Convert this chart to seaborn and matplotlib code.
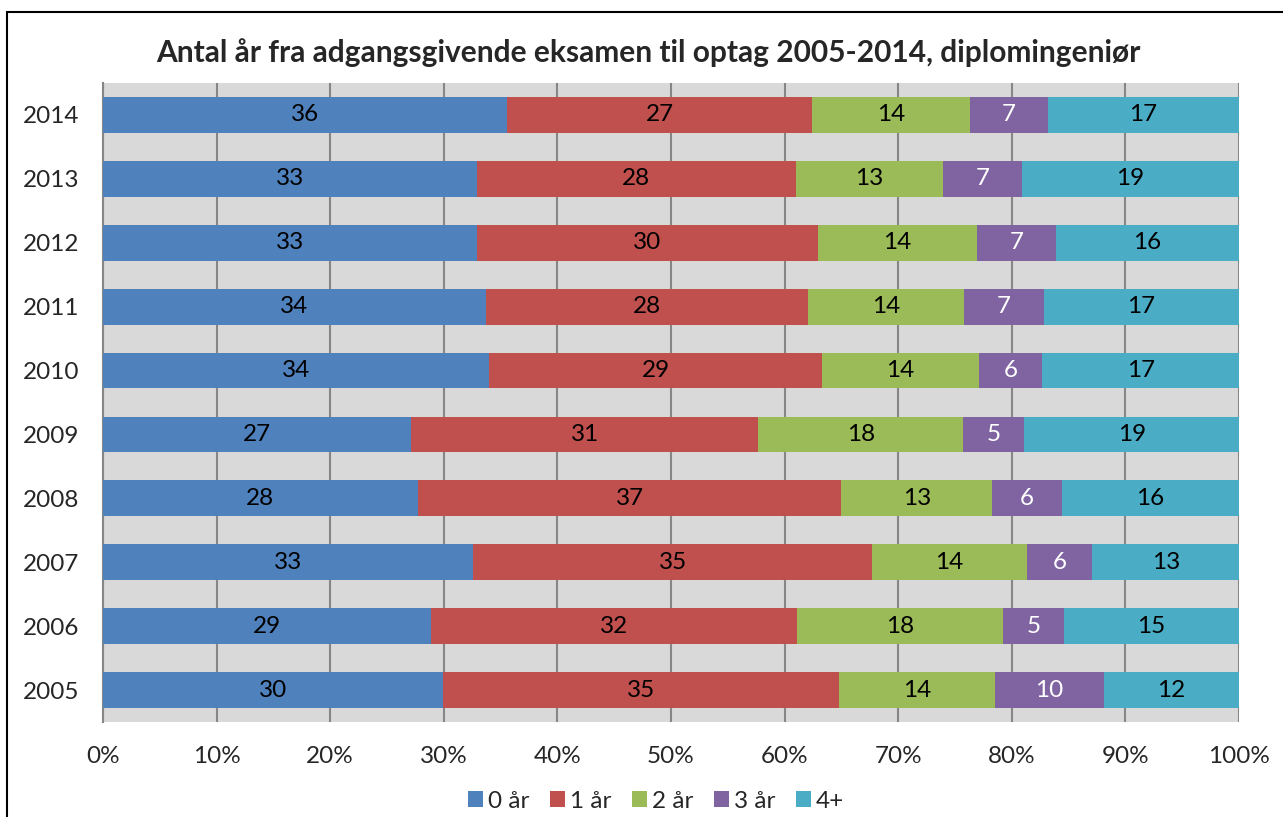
import numpy as np
import pandas as pd
import seaborn as sns
import matplotlib.pyplot as plt
from matplotlib.lines import Line2D
from matplotlib.patches import Patch

# data (share of students, %), top row first
years = ['2014', '2013', '2012', '2011', '2010', '2009', '2008', '2007', '2006', '2005']
groups = ['0 år', '1 år', '2 år', '3 år', '4+']
år0 = [35.6, 32.9, 32.9, 33.7, 34.0, 27.1, 27.7, 32.6, 28.9, 29.9]
år1 = [26.8, 28.1, 30.0, 28.4, 29.3, 30.6, 37.3, 35.1, 32.2, 34.9]
år2 = [13.9, 12.9, 14.0, 13.7, 13.8, 18.0, 13.3, 13.6, 18.1, 13.7]
år3 = [6.9, 7.0, 7.0, 7.0, 5.6, 5.4, 6.1, 5.8, 5.4, 9.6]
år4 = [16.8, 19.1, 16.1, 17.2, 17.3, 18.9, 15.6, 12.9, 15.4, 11.9]
colors = ['#4F81BD', '#C0504D', '#9BBB59', '#8064A2', '#4BACC6']
label_colors = ['black', 'black', 'black', 'white', 'black']

df = pd.DataFrame({'year': years, '0 år': år0, '1 år': år1, '2 år': år2,
                   '3 år': år3, '4+': år4})
vals = df[groups]
pct = vals.div(vals.sum(axis=1), axis=0) * 100
cum = pct.cumsum(axis=1)

sns.set_style('white')
plt.rcParams['font.family'] = ['Lato', 'DejaVu Sans']

fig = plt.figure(figsize=(12.83, 8.17), dpi=100)
ax = fig.add_axes([103 / 1283, 1 - 722 / 817, 1136 / 1283, 639 / 817])
ax.set_facecolor('#D9D9D9')

# stacked bars: draw cumulative totals from the widest down
for i in range(len(groups) - 1, -1, -1):
    plot_df = pd.DataFrame({'year': years, 'x': cum[groups[i]].values})
    sns.barplot(data=plot_df, x='x', y='year', order=years, orient='h',
                color=colors[i], saturation=1, width=0.56, ax=ax,
                edgecolor='none', linewidth=0, zorder=3)

# value labels in the middle of each segment
for i, g in enumerate(groups):
    centers = cum[g].values - pct[g].values / 2
    for j, c in enumerate(centers):
        ax.text(c, j, f'{vals[g].values[j]:.0f}', ha='center', va='center',
                fontsize=17.5, color=label_colors[i], zorder=5)

ax.set_xlim(0, 100)
ax.set_ylim(len(years) - 0.5, -0.5)
ax.set_xticks(np.arange(0, 101, 10))
ax.set_xticklabels([f'{t}%' for t in range(0, 101, 10)])
ax.tick_params(axis='x', length=0, pad=17, labelsize=17.5)
ax.tick_params(axis='y', length=0, pad=17, labelsize=17.5)
ax.set_xlabel('')
ax.set_ylabel('')
ax.grid(axis='x', color='#868686', linewidth=1.5, zorder=1)
ax.set_axisbelow(True)
for s in ['top', 'right', 'bottom']:
    ax.spines[s].set_visible(False)
ax.spines['left'].set_color('#868686')
ax.spines['left'].set_linewidth(1.5)

fig.text(0.505, 1 - 53 / 817,
         'Antal år fra adgangsgivende eksamen til optag 2005-2014, diplomingeniør',
         ha='center', va='center', fontsize=21.5, fontweight='bold')

handles = [Patch(facecolor=c, edgecolor='none') for c in colors]
fig.legend(handles, groups, loc='center', bbox_to_anchor=(656 / 1283, 1 - 801 / 817),
           ncol=5, frameon=False, fontsize=17.5, handlelength=0.62, handleheight=0.62,
           handletextpad=0.2, columnspacing=0.85)

# outer chart frame (top and left edges visible)
fig.add_artist(Line2D([7 / 1283, 7 / 1283], [0, 1 - 11.5 / 817], color='black', linewidth=1.5))
fig.add_artist(Line2D([7 / 1283, 1], [1 - 11.5 / 817, 1 - 11.5 / 817], color='black', linewidth=1.5))

fig.savefig('out.png', dpi=100)
